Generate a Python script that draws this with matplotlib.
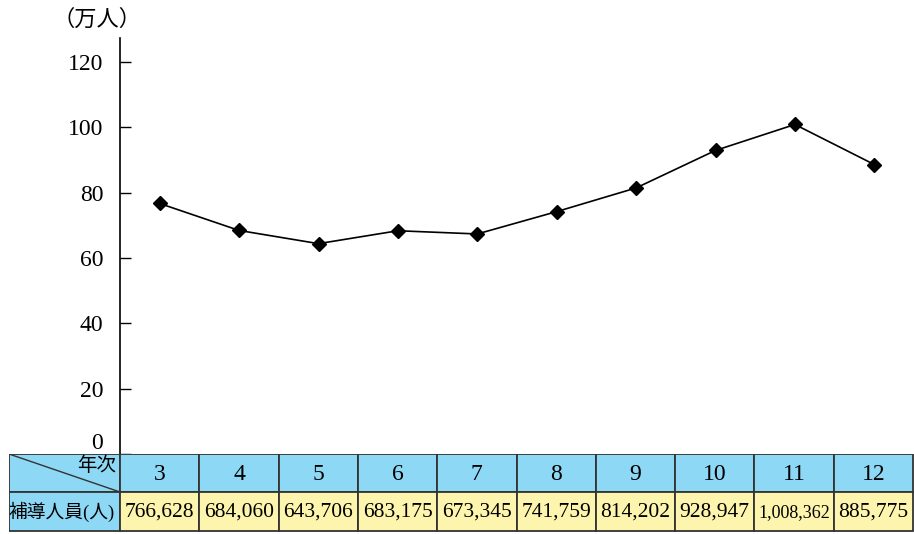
import numpy as np
import matplotlib
matplotlib.use('Agg')
import matplotlib.pyplot as plt
from matplotlib.patches import Rectangle

plt.rcParams['font.family'] = ['Liberation Serif', 'Noto Sans CJK JP', 'DejaVu Sans']

# ---- data ----
years = ['3', '4', '5', '6', '7', '8', '9', '10', '11', '12']
people = [766628, 684060, 643706, 683175, 673345, 741759, 814202, 928947, 1008362, 885775]
row_label = '補導人員(人)'
head_label = '年次'
unit_label = '（万人）'
yticks = [0, 20, 40, 60, 80, 100, 120]

vals = np.array(people) / 10000.0
n = len(years)

W, H = 914, 534
fig = plt.figure(figsize=(W / 100, H / 100), dpi=100)

# ---- line chart ----
ax = fig.add_axes([120 / W, 80 / H, (W - 120) / W, (454 - 38) / H])
ax.plot(np.arange(n) + 0.5, vals, color='black', lw=1.2,
        marker='D', markersize=7, markerfacecolor='black')
ax.set_xlim(0, n)
ax.set_ylim(0, 127.3)
ax.set_yticks(yticks)
ax.set_yticklabels([str(t) for t in yticks], fontsize=17)
ax.tick_params(axis='y', direction='in', length=8, width=1, pad=12)
ax.get_yticklabels()[0].set_va('bottom')
ax.set_xticks([])
for s in ['top', 'right', 'bottom']:
    ax.spines[s].set_visible(False)
ax.spines['left'].set_linewidth(1.2)
fig.text(53 / W, 1 - 20 / H, unit_label, fontsize=16, va='center', ha='left')

# ---- table ----
tx = fig.add_axes([9 / W, 2 / H, (W - 9) / W, 78 / H])
tx.set_xlim(9, W)
tx.set_ylim(532, 454)
tx.axis('off')

blue = '#8dd8f5'
yellow = '#fdf5ad'
edge = '#333333'
col0 = 120
cw = (W - 1 - col0) / n
r1, r2, r3 = 454, 492, 531

tx.add_patch(Rectangle((9, r1), col0 - 9, r2 - r1, fc=blue, ec=edge, lw=1.3))
tx.add_patch(Rectangle((9, r2), col0 - 9, r3 - r2, fc=blue, ec=edge, lw=1.3))
tx.plot([9, col0], [r1, r2], color=edge, lw=1)
tx.text(col0 - 4, r1 + 3, head_label, fontsize=14, ha='right', va='top')
tx.text(col0 - 5, (r2 + r3) / 2, row_label, fontsize=13.5, ha='right', va='center')

for i in range(n):
    x0 = col0 + i * cw
    tx.add_patch(Rectangle((x0, r1), cw, r2 - r1, fc=blue, ec=edge, lw=1.3))
    tx.add_patch(Rectangle((x0, r2), cw, r3 - r2, fc=yellow, ec=edge, lw=1.3))
    tx.text(x0 + cw / 2, (r1 + r2) / 2 + 1, years[i], fontsize=17, ha='center', va='center')
    s = f'{people[i]:,}'
    fs = 15.5 if len(s) <= 7 else 13
    tx.text(x0 + cw / 2, (r2 + r3) / 2 + 1, s, fontsize=fs, ha='center', va='center')

fig.savefig('out.png', dpi=100)
